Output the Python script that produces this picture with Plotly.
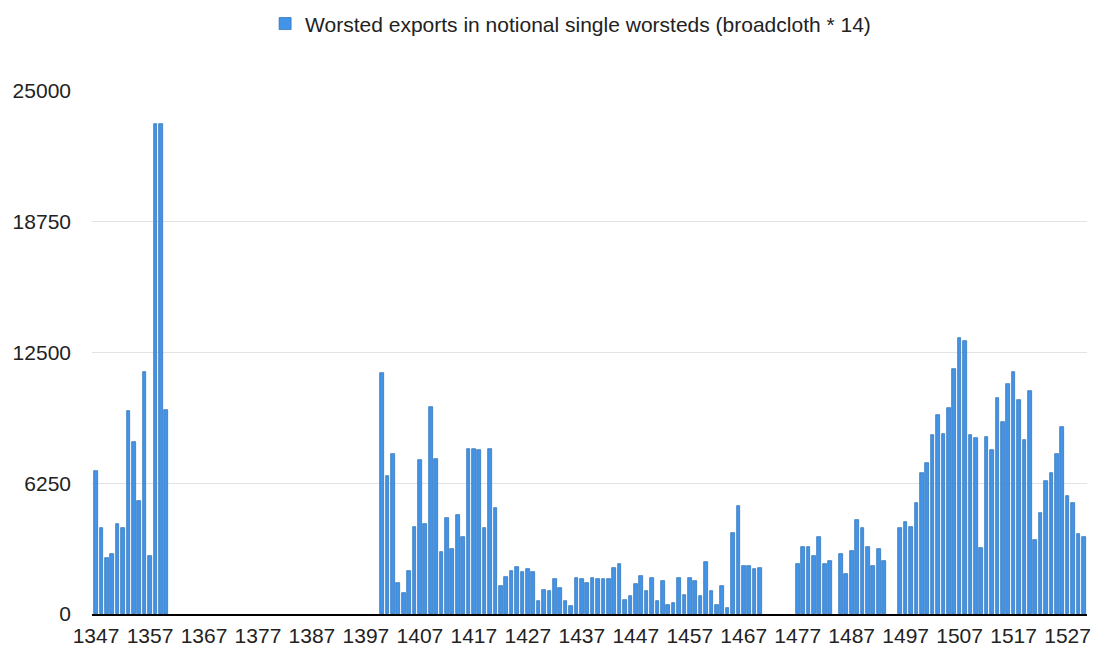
import plotly.graph_objects as go

# Worsted exports, notional single worsteds (broadcloth * 14)
# each block: first year + one value per year, None = no record
start_a = 1347
exports_a = [6850, 4100, 2700, 2850, 4300, 4100, 9700, 8200, 5400, 11550,
             2750, 23400, 23400, 9750]

start_b = 1400
exports_b = [11530, 6600, 7630, 1480, 1000, 2070, 4180, 7340, 4320, 9900,
             7390, 2960, 4580, 3120, 4740, 3670, 7890, 7890, 7820, 4090,
             7890, 5060, 1340, 1750, 2070, 2230, 1990, 2150, 1990, 600,
             1160, 1100, 1660, 1240, 600, 370, 1740, 1660, 1500, 1740,
             1660, 1660, 1660, 2220, 2380, 690, 850, 1420, 1820, 1100,
             1740, 600, 1580, 450, 530, 1740, 930, 1740, 1580, 850,
             2470, 1100, 450, 1340, 290, 3860, 5150, 2300, 2300, 2140,
             2220]

start_c = 1477
exports_c = [2370, 3190, 3190, 2790, 3690, 2370, 2530, None, 2870, 1890,
             3030, 4490, 4090, 3190, 2290, 3110, 2530]

start_d = 1496
exports_d = [4090, 4400, 4160, 5290, 6760, 7240, 8550, 9510, 8620, 9850,
             11720, 13190, 13030, 8540, 8390, 3160, 8470, 7820, 10330, 9190,
             11000, 11560, 10250, 8310, 10660, 3520, 4810, 6350, 6760, 7660,
             8950, 5630, 5290, 3840, 3680]

first_year = 1347
last_year = 1530
y_ticks = [0, 6250, 12500, 18750, 25000]
series_name = "Worsted exports in notional single worsteds (broadcloth * 14)"

years = list(range(first_year, last_year + 1))
values = {}
for start, vals in [(start_a, exports_a), (start_b, exports_b),
                    (start_c, exports_c), (start_d, exports_d)]:
    for i, v in enumerate(vals):
        values[start + i] = v
exports = [values.get(yr) for yr in years]

font = "Liberation Sans, Arial, Helvetica, sans-serif"

fig = go.Figure()
fig.add_trace(go.Bar(
    x=years, y=exports, name=series_name, width=0.68,
    marker=dict(color="#4394e6", line=dict(color="#2a6db4", width=0.7)),
    showlegend=True,
))

fig.update_layout(
    width=1095, height=646,
    margin=dict(l=92, r=8, t=91, b=32, autoexpand=False),
    plot_bgcolor="white", paper_bgcolor="white",
    font=dict(family=font, size=21, color="#222222"),
    bargap=0,
    showlegend=True,
    legend=dict(
        orientation="h", x=0.481, xanchor="center",
        y=0.963, yref="container", yanchor="middle",
        font=dict(size=21, color="#222222"),
        itemwidth=30,
    ),
)

fig.update_xaxes(
    range=[first_year - 0.75, last_year + 0.6],
    tickvals=list(range(first_year, last_year, 10)),
    showgrid=False, zeroline=False, automargin=False,
    showline=True, linecolor="black", linewidth=1.5,
    ticks="", ticklabelstandoff=2, ticklabeloverflow="allow",
)
fig.update_yaxes(
    range=[0, 25000],
    tickvals=y_ticks, tickformat="d", automargin=False,
    showgrid=True, gridcolor="#e3e3e3", gridwidth=1,
    zeroline=False, ticks="", ticklabelstandoff=20,
)

# drop the browser's default body margin so the figure fills the window
fig.write_html("out.html", config={"displayModeBar": False},
               post_script="document.body.style.margin = '0';")
